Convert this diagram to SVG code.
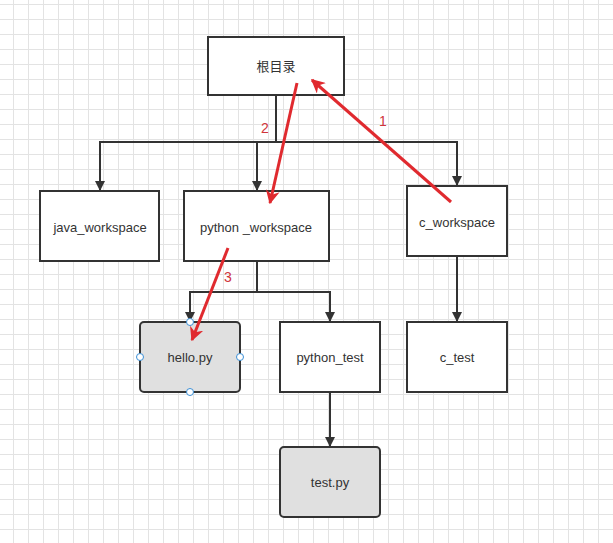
<svg xmlns="http://www.w3.org/2000/svg" width="613" height="543" viewBox="0 0 613 543">
<defs>
<pattern id="grid" x="13" y="4" width="15" height="15" patternUnits="userSpaceOnUse">
<path d="M0.5 0V15M0 0.5H15" stroke="#e3e3e3" stroke-width="1" fill="none"/>
</pattern>
<marker id="blk" markerWidth="10" markerHeight="12" refX="9" refY="5" orient="auto" markerUnits="userSpaceOnUse" viewBox="0 0 10 10">
<path d="M0 0L10 5L0 10Z" fill="#333"/>
</marker>
<marker id="red" markerWidth="14" markerHeight="14" refX="9" refY="5" orient="auto" markerUnits="userSpaceOnUse" viewBox="0 0 10 10">
<path d="M0 0L10 5L0 10L3 5Z" fill="#e02a2f"/>
</marker>
</defs>
<style>
.box{fill:#fff;stroke:#333;stroke-width:2}
.gray{fill:#e0e0e0;stroke:#333;stroke-width:2}
.t{font-family:"Liberation Sans","Noto Sans CJK SC",sans-serif;font-size:13px;fill:#333;text-anchor:middle;dominant-baseline:central}
.c{fill:none;stroke:#333;stroke-width:2}
.r{fill:none;stroke:#e02a2f;stroke-width:3}
.rl{font-family:"Liberation Sans",sans-serif;font-size:14px;fill:#d0343a;text-anchor:middle;dominant-baseline:central}
.h{fill:#fff;stroke:#3b8fd6;stroke-width:1}
</style>
<rect width="613" height="543" fill="#fff"/>
<rect width="613" height="543" fill="url(#grid)"/>
<g id="connectors">
<path class="c" d="M276 95V142H100V190" marker-end="url(#blk)"/>
<path class="c" d="M257 142V190" marker-end="url(#blk)"/>
<path class="c" d="M276 142H457V185" marker-end="url(#blk)"/>
<path class="c" d="M257 261V292H190V321" marker-end="url(#blk)"/>
<path class="c" d="M257 292H330V321" marker-end="url(#blk)"/>
<path class="c" d="M457 256V321" marker-end="url(#blk)"/>
<path class="c" d="M330 392V446" marker-end="url(#blk)"/>
</g>
<g id="n_root"><rect class="box" x="208" y="37" width="136" height="58"/><text class="t" x="276" y="66">根目录</text></g>
<g id="n_java"><rect class="box" x="40" y="191" width="119" height="70"/><text class="t" x="100" y="227">java_workspace</text></g>
<g id="n_python"><rect class="box" x="184" y="191" width="145" height="70"/><text class="t" x="256" y="227">python _workspace</text></g>
<g id="n_c"><rect class="box" x="407" y="186" width="100" height="70"/><text class="t" x="457" y="222">c_workspace</text></g>
<g id="n_hello"><rect class="gray" x="140" y="322" width="100" height="70" rx="4"/><text class="t" x="190" y="357">hello.py</text>
<circle class="h" cx="190" cy="322" r="3.5"/><circle class="h" cx="140" cy="357" r="3.5"/><circle class="h" cx="240" cy="357" r="3.5"/><circle class="h" cx="190" cy="392" r="3.5"/></g>
<g id="n_ptest"><rect class="box" x="280" y="322" width="100" height="70"/><text class="t" x="330" y="357">python_test</text></g>
<g id="n_ctest"><rect class="box" x="407" y="322" width="100" height="70"/><text class="t" x="457" y="357">c_test</text></g>
<g id="n_testpy"><rect class="gray" x="280" y="447" width="100" height="70" rx="4"/><text class="t" x="330" y="482">test.py</text></g>
<g id="red-arrows">
<path class="r" d="M451 202L312 80" marker-end="url(#red)"/>
<path class="r" d="M297 83L270 203" marker-end="url(#red)"/>
<path class="r" d="M228 248L192 340" marker-end="url(#red)"/>
<text class="rl" x="383" y="121">1</text>
<text class="rl" x="265" y="128">2</text>
<text class="rl" x="228" y="277">3</text>
</g>
</svg>
